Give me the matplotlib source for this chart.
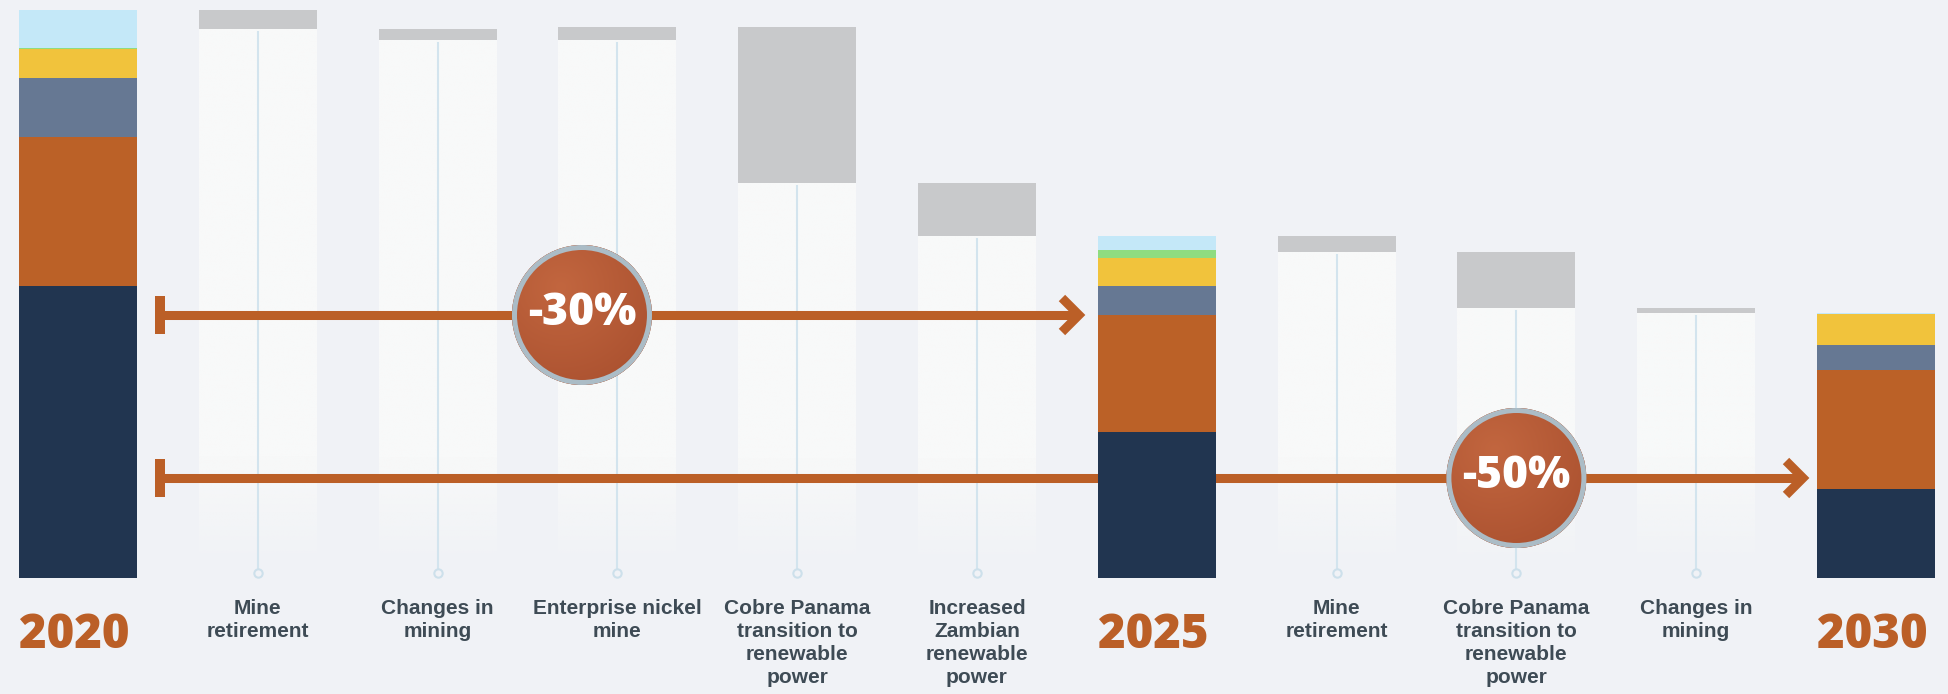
"""
排放路径瀑布图 - 2020 / 2025 / 2030
"""
import numpy as np

import matplotlib
matplotlib.use('Agg')
import matplotlib.pyplot as plt
from matplotlib.patches import Ellipse, Rectangle
from matplotlib.colors import to_rgb

# 数据 (相对单位)
seg_colors = ['#213550', '#bb6127', '#667893', '#f1c33c', '#8fdc80', '#c4e8f8']
total_2020 = [292, 149, 59, 29, 1, 38]
total_2025 = [146, 117, 29, 28, 8, 14]
total_2030 = [89, 119, 25, 31, 0, 1]

steps_a = ['Mine\nretirement', 'Changes in\nmining', 'Enterprise nickel\nmine',
           'Cobre Panama\ntransition to\nrenewable\npower',
           'Increased\nZambian\nrenewable\npower']
deltas_a = [-19, -11, 13, -156, -53]
steps_b = ['Mine\nretirement', 'Cobre Panama\ntransition to\nrenewable\npower',
           'Changes in\nmining']
deltas_b = [-16, -56, -5]
years = ['2020', '2025', '2030']
reductions = ['-30%', '-50%']

BG = '#f0f2f6'
COPPER = '#bb5f27'
GRAY = '#c8c9cb'
PILLAR = '#f8f9f9'
TEXT = '#3e4b55'
LINE = '#d3e4ee'

W = 0.656          # 柱宽
PX = 179.8         # 每个类别的像素宽度


def stacked(ax, x, values):
    bottom = 0
    for v, c in zip(values, seg_colors):
        if v > 0:
            ax.bar(x, v, W, bottom=bottom, color=c, zorder=4, linewidth=0)
        bottom += v
    return bottom


def pillar(ax, x, top, fade=110):
    """白色柱子, 底部渐隐"""
    n = 300
    h = np.linspace(0, top, n)
    rgba = np.zeros((n, 1, 4))
    rgba[:, :, :3] = to_rgb(PILLAR)
    rgba[:, 0, 3] = np.clip((h - 10) / fade, 0, 1)
    ax.imshow(rgba, extent=(x - W / 2, x + W / 2, 0, top), origin='lower',
              aspect='auto', interpolation='bilinear', zorder=1)
    ax.plot([x, x], [top - 3, 5], color=LINE, lw=1.5, zorder=2)
    ax.plot([x], [5], marker='o', ms=6, mfc=BG, mec='#cde0eb', mew=1.5, zorder=2)


def waterfall(ax, start_x, level, deltas):
    for i, d in enumerate(deltas):
        x = start_x + i
        new = level + d
        lo, hi = min(level, new), max(level, new)
        pillar(ax, x, lo)
        ax.bar(x, hi - lo, W, bottom=lo, color=GRAY, zorder=3, linewidth=0)
        level = new
    return level


def arrow(ax, x0, x1, y):
    ax.plot([x0, x1 - 0.02], [y, y], color=COPPER, lw=6.5, solid_capstyle='butt', zorder=3)
    ax.add_patch(Rectangle((x0 - 5 / PX, y - 19), 10 / PX, 38, color=COPPER, zorder=3, lw=0))
    ax.plot([x1 - 17 / PX, x1, x1 - 17 / PX], [y + 17, y, y - 17], color=COPPER, lw=6.5,
            solid_joinstyle='miter', solid_capstyle='butt', zorder=3)


def badge(ax, x, y, label, r=70):
    w, h = 2 * r / PX, 2 * r
    disc = Ellipse((x, y), w, h, facecolor='#b75a35', edgecolor='none', zorder=5)
    ax.add_patch(disc)
    # 轻微径向渐变
    g = np.linspace(-1, 1, 200)
    gx, gy = np.meshgrid(g, g)
    d = np.clip(np.hypot(gx + 0.3, gy - 0.4) / 2.0, 0, 1)[..., None]
    c0, c1 = np.array(to_rgb('#c2663f')), np.array(to_rgb('#a54c2c'))
    img = c0 * (1 - d) + c1 * d
    im = ax.imshow(img, extent=(x - w / 2, x + w / 2, y - h / 2, y + h / 2), origin='lower',
                   aspect='auto', interpolation='bilinear', zorder=5)
    im.set_clip_path(disc)
    ax.add_patch(Ellipse((x, y), w - 5 / PX, h - 5, facecolor='none', edgecolor='#abbcc6',
                         lw=3.6, zorder=6))
    ax.text(x, y + 2, label, color='white', fontsize=32, fontweight='heavy',
            family=['Open Sans', 'DejaVu Sans'], ha='center', va='center', zorder=7)


fig = plt.figure(figsize=(19.49, 6.94), dpi=100, facecolor=BG)
ax = fig.add_axes([0, 0, 1, 1])
ax.set_facecolor(BG)

# 2020 -> 2025 -> 2030
lvl = stacked(ax, 0, total_2020)
waterfall(ax, 1, lvl, deltas_a)
x25 = 1 + len(deltas_a)
lvl = stacked(ax, x25, total_2025)
waterfall(ax, x25 + 1, lvl, deltas_b)
x30 = x25 + 1 + len(deltas_b)
stacked(ax, x30, total_2030)

# 箭头与百分比
arrow(ax, 0.456, 5.567, 263)
arrow(ax, 0.456, 9.594, 100)
badge(ax, 2.803, 263, reductions[0])
badge(ax, 8.0, 100, reductions[1])

# 标签
for x, yr in zip([0, x25, x30], years):
    ax.text(x - 0.02, -70, yr, color=COPPER, fontsize=34, fontweight='heavy',
            family=['Open Sans', 'DejaVu Sans'], ha='center', va='baseline')
for i, lab in enumerate(steps_a + steps_b):
    x = 1 + i if i < len(steps_a) else x25 + 1 + (i - len(steps_a))
    ax.text(x, -21, lab, color=TEXT, fontsize=15, fontweight='bold',
            family=['Liberation Sans', 'DejaVu Sans'], ha='center', va='top', linespacing=1.27)

ax.set_xlim(-78 / PX, (1949 - 78) / PX)
ax.set_ylim(-116, 578)
ax.axis('off')

fig.savefig('out.png', dpi=100, facecolor=BG)
